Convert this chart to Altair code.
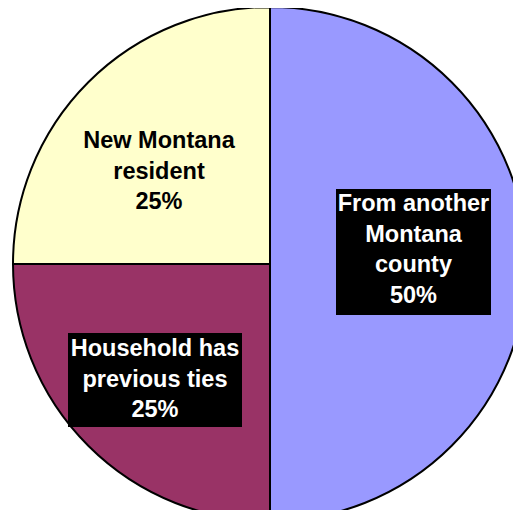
import altair as alt
import pandas as pd

# ---- data ----
categories = ["From another Montana county", "Household has previous ties", "New Montana resident"]
shares = [50, 25, 25]
label_names = [["From another", "Montana", "county"], ["Household has", "previous ties"], ["New Montana", "resident"]]
colors = ["#9999FF", "#993366", "#FFFFCC"]

# ---- layout (pixels, chart coordinates) ----
W, H = 505, 502
CX, CY, R = 262, 256, 257
box_x = [328, 60, None]
box_x2 = [483, 234, None]
box_y = [181, 325, None]
box_y2 = [307, 419, None]
text_x = [405.5, 147, 151]
text_y = [203, 348, 140]
text_color = ["white", "white", "black"]

slices = pd.DataFrame({"category": categories, "share": shares, "idx": list(range(len(categories)))})

labels = pd.DataFrame({
    "category": categories,
    "lines": [names + [f"{s}%"] for names, s in zip(label_names, shares)],
    "tx": text_x,
    "ty": text_y,
    "tc": text_color,
})
boxes = pd.DataFrame({
    "category": categories,
    "bx": box_x, "bx2": box_x2, "by": box_y, "by2": box_y2,
}).dropna()

pie = alt.Chart(slices).mark_arc(stroke="black", strokeWidth=2, radius=R).encode(
    theta=alt.Theta("share:Q", stack=True),
    color=alt.Color("category:N", scale=alt.Scale(domain=categories, range=colors), legend=None),
    order=alt.Order("idx:Q"),
    x=alt.value(CX),
    y=alt.value(CY),
)

rects = alt.Chart(boxes).mark_rect(color="black").encode(
    x=alt.X("bx:Q", scale=None),
    x2="bx2:Q",
    y=alt.Y("by:Q", scale=None),
    y2="by2:Q",
)

texts = alt.Chart(labels).mark_text(
    font="Liberation Sans", fontSize=23.5, fontWeight="bold",
    align="center", baseline="alphabetic", lineHeight=30.5,
).encode(
    x=alt.X("tx:Q", scale=None),
    y=alt.Y("ty:Q", scale=None),
    text="lines",
    color=alt.Color("tc:N", scale=None),
)

chart = alt.layer(pie, rects, texts).properties(
    width=W, height=H, autosize=alt.AutoSizeParams(type="none"), padding=0,
).configure_view(stroke=None)

chart.save("out.html", embed_options={"renderer": "svg", "actions": False})
